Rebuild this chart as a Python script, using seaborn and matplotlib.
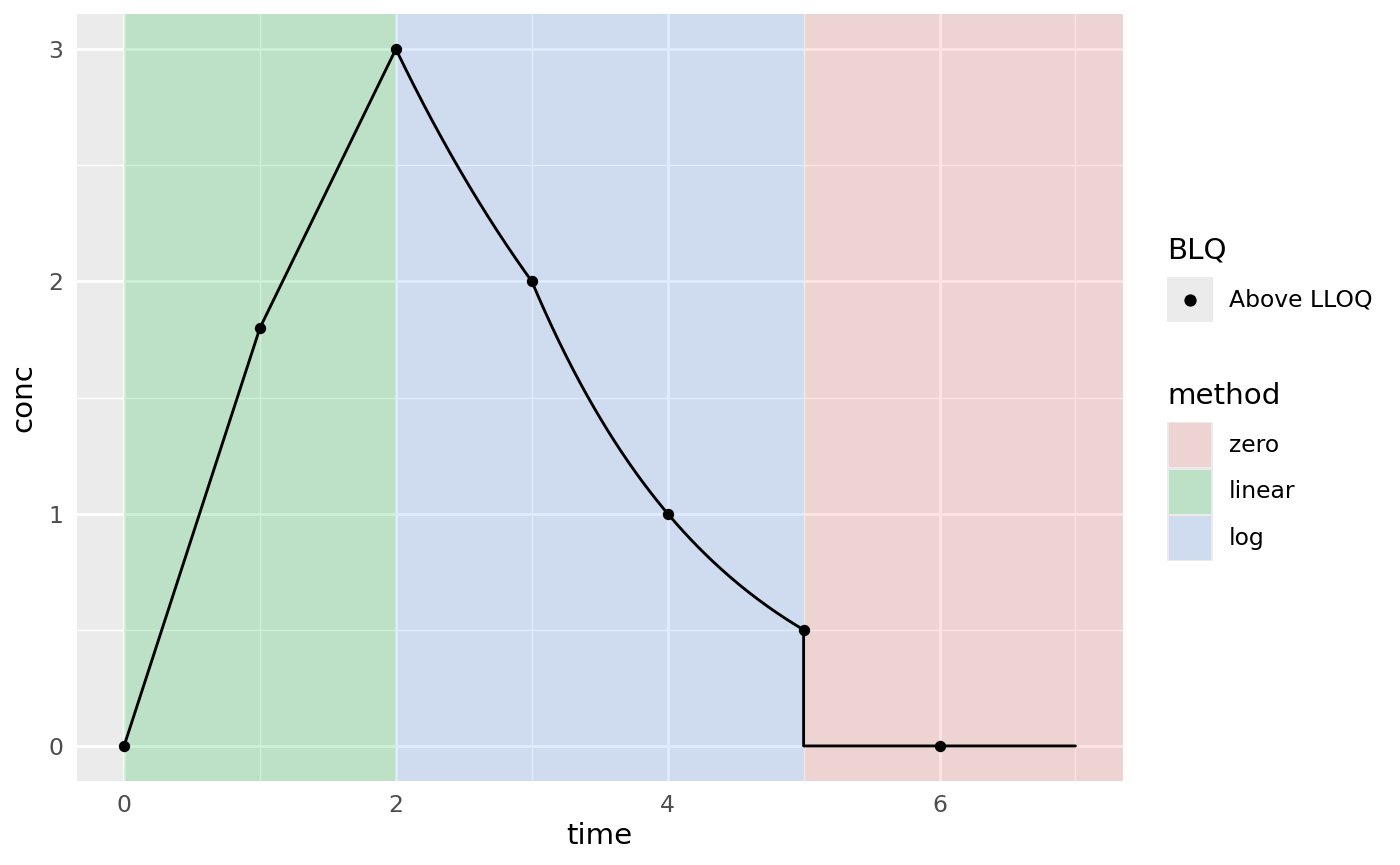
import matplotlib
matplotlib.use("Agg")
import matplotlib.pyplot as plt
import numpy as np
import pandas as pd
import seaborn as sns
from matplotlib.patches import Rectangle
from matplotlib.lines import Line2D

# observed concentrations
time = [0, 1, 2, 3, 4, 5, 6]
conc = [0, 1.8, 3, 2, 1, 0.5, 0]
blq = ["Above LLOQ"] * 7

# interpolation method per region
region_start = [0, 2, 5]
region_end = [2, 5, np.inf]
region_method = ["linear", "log", "zero"]
interval_end = 7

method_order = ["zero", "linear", "log"]
method_colors = {"zero": "#F8766D", "linear": "#00BA38", "log": "#619CFF"}


def method_at(t):
    for s, e, m in zip(region_start, region_end, region_method):
        if s <= t < e:
            return m
    return region_method[-1]


# build the interpolated curve between observations
tt = list(time) + [interval_end]
cc = list(conc) + [0]
cx, cy = [], []
for i in range(len(tt) - 1):
    t0, t1, c0, c1 = tt[i], tt[i + 1], cc[i], cc[i + 1]
    m = method_at(t0)
    frac = np.linspace(0, 1, 60)
    xs = t0 + (t1 - t0) * frac
    if m == "linear":
        ys = c0 + (c1 - c0) * frac
    elif m == "log":
        ys = c0 * (c1 / c0) ** frac
    else:
        xs = np.concatenate([[t0], xs])
        ys = np.concatenate([[c0], np.zeros(len(frac))])
    cx.extend(xs)
    cy.extend(ys)
curve = pd.DataFrame({"time": cx, "conc": cy})
obs = pd.DataFrame({"time": time, "conc": conc, "BLQ": blq})

sns.set_theme(style="white")
plt.rcParams["font.family"] = ["DejaVu Sans"]
plt.rcParams["text.color"] = "black"
plt.rcParams["axes.labelcolor"] = "black"

dpi = 192
W, H = 1400, 865
fig = plt.figure(figsize=(W / dpi, H / dpi), dpi=dpi)
pl, pr, pt, pb = 76.5, 1123, 14.2, 780.8
ax = fig.add_axes([pl / W, 1 - pb / H, (pr - pl) / W, (pb - pt) / H])
ax.set_facecolor("#EBEBEB")
for s in ax.spines.values():
    s.set_visible(False)

xmin, xmax = 0, interval_end
ymin, ymax = 0, max(conc)
xlim = (xmin - 0.05 * (xmax - xmin), xmax + 0.05 * (xmax - xmin))
ylim = (ymin - 0.05 * (ymax - ymin), ymax + 0.05 * (ymax - ymin))

ax.set_xticks([0, 2, 4, 6])
ax.set_xticks([1, 3, 5, 7], minor=True)
ax.set_yticks([0, 1, 2, 3])
ax.set_yticks([0.5, 1.5, 2.5], minor=True)
ax.grid(which="major", color="white", linewidth=1.07)
ax.grid(which="minor", color="white", linewidth=0.53)
ax.set_axisbelow(True)
ax.tick_params(which="major", length=2.75, width=1.07, color="#333333",
               labelsize=8.8, labelcolor="#4D4D4D", pad=2.2)
ax.tick_params(which="minor", length=0)

for s, e, m in zip(region_start, region_end, region_method):
    ax.axvspan(s, min(e, xlim[1]), color=method_colors[m], alpha=0.2,
               linewidth=0, zorder=1)

sns.lineplot(data=curve, x="time", y="conc", color="black", linewidth=1.07,
             sort=False, estimator=None, ax=ax, zorder=3)
sns.scatterplot(data=obs, x="time", y="conc", color="black", s=14,
                edgecolor="black", linewidth=0.5, ax=ax, zorder=4, legend=False)
ax.set_xlim(*xlim)
ax.set_ylim(*ylim)
ax.set_xlabel("time", fontsize=11, labelpad=2)
ax.set_ylabel("conc", fontsize=11, labelpad=4)


def frect(x0, y0, x1, y1, **kw):
    fig.patches.append(Rectangle((x0 / W, 1 - y1 / H), (x1 - x0) / W, (y1 - y0) / H,
                                 transform=fig.transFigure, **kw))


# legends
fig.text(1167 / W, 1 - 250 / H, "BLQ", fontsize=11, va="center", ha="left")
frect(1167, 277, 1213, 322, facecolor="#EBEBEB", edgecolor="none")
fig.lines.append(Line2D([1190 / W], [1 - 299.5 / H], marker="o", color="black",
                        markersize=3.6, transform=fig.transFigure))
fig.text(1229 / W, 1 - 300 / H, "Above LLOQ", fontsize=8.8, va="center", ha="left")

fig.text(1167 / W, 1 - 396 / H, "method", fontsize=11, va="center", ha="left")
frect(1167, 422, 1213, 561, facecolor="#EBEBEB", edgecolor="none")
for i, m in enumerate(method_order):
    y0 = 423 + i * 46.5
    frect(1169, y0, 1211, y0 + 44, facecolor="#EBEBEB", edgecolor="none")
    frect(1169, y0, 1211, y0 + 44, facecolor=method_colors[m], alpha=0.2,
          edgecolor="none")
    fig.text(1229 / W, 1 - (y0 + 22) / H, m, fontsize=8.8, va="center", ha="left")

fig.savefig("out.png", dpi=dpi)
